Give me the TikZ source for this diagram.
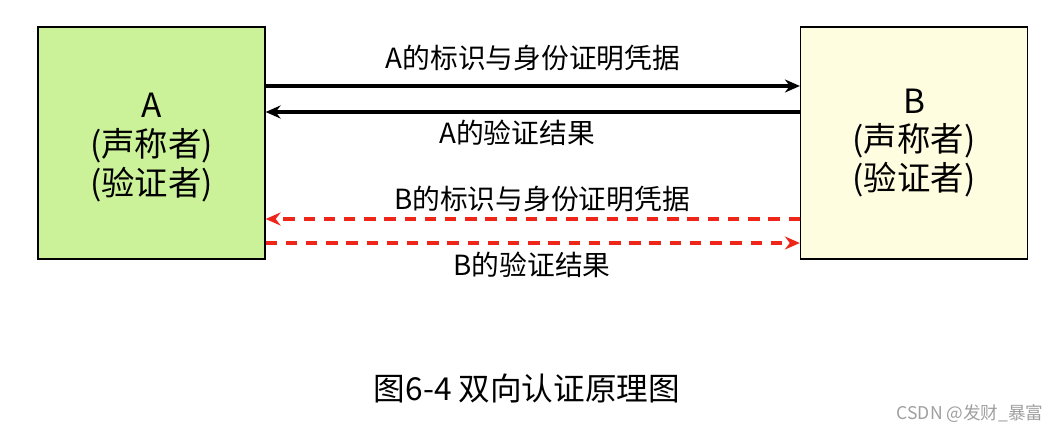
\documentclass[tikz,border=0pt]{standalone}
\usepackage{fontspec}
\setmainfont{Noto Sans CJK SC}
\usetikzlibrary{arrows.meta}
\definecolor{boxgreen}{RGB}{204,242,153}
\definecolor{boxyellow}{RGB}{255,253,224}
\definecolor{msgred}{RGB}{238,38,26}
\tikzset{
  party/.style={draw=black, line width=0.7pt, fill=#1, minimum width=4.54cm, minimum height=4.64cm, align=center, font=\fontsize{19}{22}\selectfont},
  party/.default={white},
  msg/.style={-{Stealth[length=3mm,width=2.6mm]}, line width=2pt, draw=black},
  reply/.style={msg, draw=msgred, dash pattern=on 6.5pt off 5pt},
  lbl/.style={font=\fontsize{15.8}{18}\selectfont, inner sep=0pt},
  captext/.style={font=\fontsize{18}{21}\selectfont, inner sep=0pt}
}
\begin{document}
\begin{tikzpicture}[x=0.02cm,y=-0.02cm]
  \useasboundingbox (0,0) rectangle (1064,432);
  \node[party=boxgreen] (a) at (151.5,143) {\rule{0pt}{5pt}\\[-8pt]A\\(声称者)\\(验证者)};
  \node[party=boxyellow] (b) at (914,143) {B\\(声称者)\\(验证者)};
  \draw[msg] (a.east |- 0,86) -- (b.west |- 0,86);
  \draw[msg] (b.west |- 0,112) -- (a.east |- 0,112);
  \draw[reply] (b.west |- 0,219) -- (a.east |- 0,219);
  \draw[reply] (a.east |- 0,243) -- (b.west |- 0,243);
  \node[lbl] (l1) at (533,58) {A的标识与身份证明凭据};
  \node[lbl] (l2) at (517,133) {A的验证结果};
  \node[lbl] (l3) at (542,199) {B的标识与身份证明凭据};
  \node[lbl] (l4) at (532,265) {B的验证结果};
  \node[captext] (title) at (527,388) {图6-4 双向认证原理图};
  \node[font=\fontsize{10}{12}\selectfont, text=gray!75, inner sep=0pt] (mark) at (970,414) {CSDN @发财\_暴富};
\end{tikzpicture}
\end{document}
